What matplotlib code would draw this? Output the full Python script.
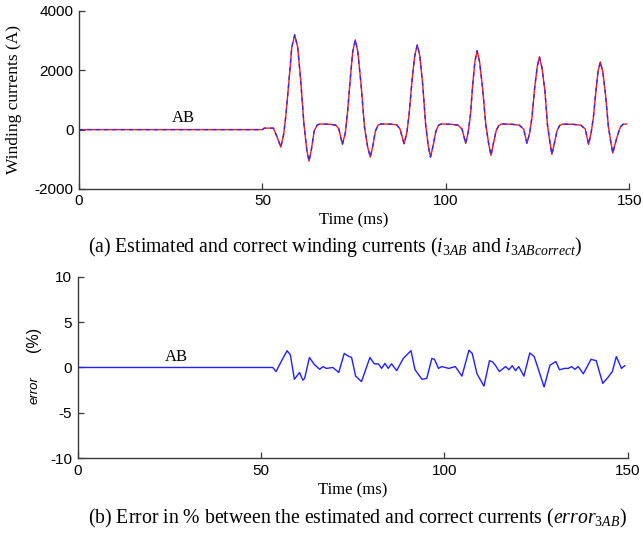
import numpy as np
import matplotlib.pyplot as plt

# Data
# ------------------------------------------------------------------------------
# (a) winding currents i3AB (estimated) and i3ABcorrect, time in ms, current in A
t_cur = [0, 50, 50.5, 53.0, 54.0, 55.0, 55.8, 56.4, 57.2, 58.0, 58.8, 59.6, 60.4,
         61.3, 62.1, 62.7, 63.3, 64.1, 64.9, 65.6, 68.5, 70.0, 70.8,
         71.8, 72.6, 73.2, 74.0, 74.6, 75.3, 76.0, 76.9, 77.8, 78.7, 79.4, 80.0,
         80.8, 81.5, 82.3, 85.0, 86.6, 87.5,
         88.6, 89.4, 90.0, 90.8, 91.5, 92.2, 92.9, 93.7, 94.5, 95.2, 95.8, 96.5,
         97.3, 98.0, 98.8, 101.5, 103.3, 104.4,
         105.4, 106.1, 106.7, 107.3, 107.9, 108.5, 109.2, 110.0, 110.9, 111.7,
         112.3, 112.9, 113.7, 114.4, 115.2, 118.0, 120.0, 121.2,
         122.1, 122.9, 123.5, 124.2, 124.9, 125.5, 126.2, 127.0, 127.7, 128.4,
         128.9, 129.5, 130.3, 131.0, 131.8, 134.5, 136.8, 138.0,
         138.9, 139.6, 140.2, 140.9, 141.5, 142.1, 142.8, 143.5, 144.3, 145.0,
         145.5, 146.1, 146.9, 147.6, 148.3, 149.3]
i_cur = [0, 0, 50, 50, -250, -590, -150, 500, 1600, 2780, 3195, 2780, 1700,
         200, -700, -1065, -700, -50, 150, 190, 180, 150, 30,
         -500, -100, 600, 1800, 2620, 3025, 2620, 1500, 100, -600, -925, -600,
         -50, 150, 190, 185, 160, 20,
         -480, -80, 550, 1700, 2480, 2860, 2480, 1500, 150, -550, -925, -550,
         -50, 150, 190, 180, 150, 20,
         -465, -80, 500, 1500, 2280, 2660, 2280, 1400, 150, -500, -870, -500,
         -40, 140, 190, 180, 150, 20,
         -465, -80, 450, 1400, 2120, 2450, 2080, 1300, 150, -450, -835, -500,
         -40, 140, 185, 180, 150, 20,
         -500, -100, 400, 1300, 1980, 2285, 1930, 1200, 100, -450, -790, -500,
         -150, 100, 180, 190]

# (b) error3AB in %
t_err = [0, 53.2, 54.1, 55.5, 57.1, 58.0, 59.1, 60.5, 61.4, 61.9, 63.2, 64.6,
         66.0, 66.9, 67.8, 69.6, 71.2, 72.7, 73.8, 74.7, 75.8, 77.4, 79.7, 80.9,
         82.0, 82.9, 83.8, 84.7, 85.6, 87.0, 88.8, 90.9, 92.0, 93.9, 95.2, 96.6,
         97.3, 98.4, 99.3, 101.2, 103.0, 104.8, 106.7, 107.6, 108.9, 110.8,
         112.3, 113.2, 113.9, 115.0, 116.7, 117.6, 118.5, 119.4, 120.3, 121.7,
         123.3, 124.5, 125.4, 127.2, 128.8, 130.4, 131.4, 132.8, 133.8, 134.7,
         135.6, 136.5, 137.9, 140.0, 141.4, 143.2, 144.6, 145.8, 146.9, 148.3,
         149.2]
e_err = [0, 0, -0.45, 0.65, 1.85, 1.4, -1.3, -0.55, -1.4, -1.2, 1.1, 0.3,
         -0.2, 0.1, -0.1, 0, -0.55, 1.55, 1.25, 1.1, -0.95, -1.55, 1.1, 0.4,
         0.4, -0.1, 0.45, -0.1, 0.4, -0.35, 1.0, 1.85, -0.25, -1.3, -1.2, 1.0,
         0.9, -0.1, 0.1, -0.1, 0.1, -0.95, 1.9, 1.55, -0.7, -2.05,
         0.75, 0.6, 0.25, -0.45, 0.1, -0.25, 0.2, -0.35, 0.1, -0.95,
         1.6, 1.2, 0.1, -2.15, 0.25, 0.65, -0.25, -0.1, -0.1, 0.1,
         -0.2, 0.1, -0.7, 0.9, 0.75, -1.75, -1.1, -0.45, 1.2, -0.1,
         0.2]

x_ticks = [0, 50, 100, 150]
y_ticks_a = [-2000, 0, 2000, 4000]
y_ticks_b = [-10, -5, 0, 5, 10]

# Figure
# ------------------------------------------------------------------------------
plt.rcParams["mathtext.fontset"] = "custom"
plt.rcParams["mathtext.rm"] = "Liberation Serif"
plt.rcParams["mathtext.it"] = "Liberation Serif:italic"
plt.rcParams["axes.unicode_minus"] = False

sans = "Liberation Sans"
serif = "Liberation Serif"
spine_col = "#3a3a3a"

fig = plt.figure(figsize=(6.43, 5.36), dpi=100)
ax1 = fig.add_axes([0.1229, 0.6475, 0.9787 - 0.1229, 0.332])
ax2 = fig.add_axes([0.1208, 0.1450, 0.9762 - 0.1208, 0.3388])


def style_axes(ax):
    for s in ["top", "right"]:
        ax.spines[s].set_visible(False)
    for s in ["left", "bottom"]:
        ax.spines[s].set_color(spine_col)
        ax.spines[s].set_linewidth(1.0)
    ax.tick_params(direction="in", length=4, width=0.9, color=spine_col,
                   labelsize=11, pad=4)
    for lab in ax.get_xticklabels() + ax.get_yticklabels():
        lab.set_fontfamily(sans)


# (a)
ax1.plot(t_cur, i_cur, color="#ff1a1a", lw=1.0)
ax1.plot(t_cur, i_cur, color="#2a2aff", lw=1.0, ls=(0, (3, 3)))
ax1.set_xlim(0, 150)
ax1.set_ylim(-2000, 4000)
ax1.set_xticks(x_ticks)
ax1.set_yticks(y_ticks_a)
style_axes(ax1)
ax1.set_xlabel("Time (ms)", family=serif, fontsize=12, labelpad=3)
ax1.set_ylabel("Winding currents (A)", family=serif, fontsize=12.5)
ax1.yaxis.set_label_coords(-0.104, 0.5)
ax1.text(28.3, 120, "AB", family=serif, fontsize=12, ha="center", va="bottom")

# (b)
ax2.plot(t_err, e_err, color="#2020ff", lw=1.0)
ax2.set_xlim(0, 150)
ax2.set_ylim(-10, 10)
ax2.set_xticks(x_ticks)
ax2.set_yticks(y_ticks_b)
style_axes(ax2)
ax2.set_xlabel("Time (ms)", family=serif, fontsize=12, labelpad=3)
ax2.text(27, 0.3, "AB", family=serif, fontsize=12, ha="center", va="bottom")
fig.text(34 / 643, 1 - 339 / 536, "(%)", family=sans, fontsize=11.5,
         rotation=90, ha="center", va="center")
fig.text(35 / 643, 1 - 390 / 536, "error", family=sans, style="italic",
         fontsize=9.5, rotation=90, ha="center", va="center")

fig.text(88 / 643, 1 - 247 / 536,
         r"(a) Estimated and correct winding currents ($i_{\mathrm{3}AB}$ and $i_{\mathrm{3}ABcorrect}$)",
         family=serif, fontsize=14.2, ha="left", va="center")
fig.text(88 / 643, 1 - 518 / 536,
         r"(b) Error in % between the estimated and correct currents ($error_{\mathrm{3}AB}$)",
         family=serif, fontsize=14.2, ha="left", va="center")

fig.savefig("out.png", dpi=100)
